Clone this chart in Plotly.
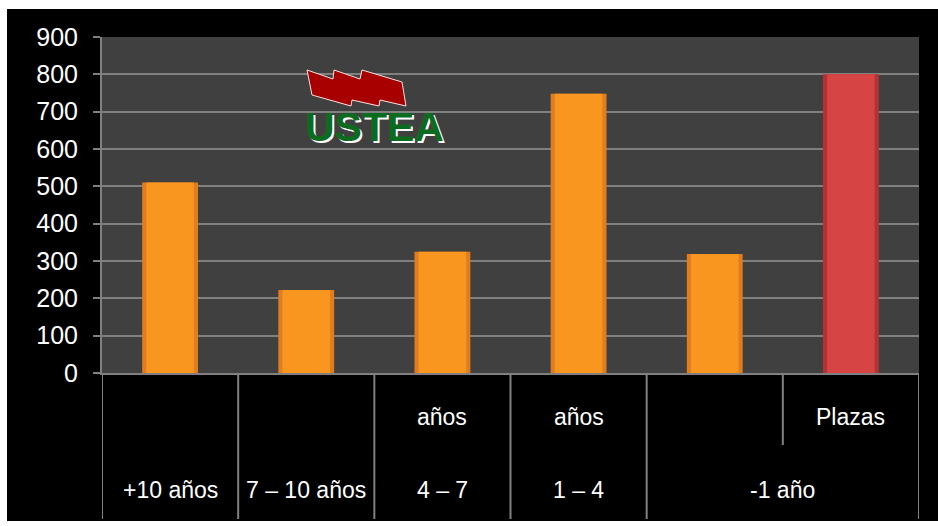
import plotly.graph_objects as go

# ---- data ----
categories = ["+10 años", "7 – 10 años", "4 – 7 años", "1 – 4 años", "-1 año", "Plazas"]
values = [510, 222, 325, 748, 319, 800]
label_top = ["", "", "años", "años", "", "Plazas"]
label_bottom = ["+10 años", "7 – 10 años", "4 – 7", "1 – 4", "-1 año"]
bottom_group = [0, 1, 2, 3, 4, 4]          # which bottom label each category belongs to
y_ticks = [0, 100, 200, 300, 400, 500, 600, 700, 800, 900]

# ---- style ----
ORANGE_EDGE = "#E07D1E"
ORANGE_MID = "#F8961F"
RED_EDGE = "#B53232"
RED_MID = "#D64444"
edge_colors = [ORANGE_EDGE] * 5 + [RED_EDGE]
mid_colors = [ORANGE_MID] * 5 + [RED_MID]
GRID = "#808080"
FONT = "Liberation Sans, Arial, sans-serif"

W, H = 938, 526
L, R, T, B = 102, 19, 37, 153
PW, PH = W - L - R, H - T - B


def px(x):
    return (x - L) / PW


def py(y):
    return (H - B - y) / PH


fig = go.Figure()
fig.add_trace(go.Bar(x=categories, y=values, width=0.41,
                     marker=dict(color=edge_colors, line=dict(width=0)),
                     hoverinfo="x+y"))
fig.add_trace(go.Bar(x=categories, y=values, width=0.35,
                     marker=dict(color=mid_colors, line=dict(width=0)),
                     hoverinfo="skip"))

shapes = []
# white border strips around the black card
shapes.append(dict(type="rect", xref="paper", yref="paper", x0=px(-5), x1=px(W + 5),
                   y0=py(9), y1=py(-5), fillcolor="white", line=dict(width=0), layer="above"))
shapes.append(dict(type="rect", xref="paper", yref="paper", x0=px(-5), x1=px(7),
                   y0=py(H + 5), y1=py(-5), fillcolor="white", line=dict(width=0), layer="above"))
shapes.append(dict(type="rect", xref="paper", yref="paper", x0=px(-5), x1=px(W + 5),
                   y0=py(H + 5), y1=py(521), fillcolor="white", line=dict(width=0), layer="above"))

# category dividers below the axis
n = len(categories)
for i in range(n + 1):
    xb = i - 0.5
    same_group = 0 < i < n and bottom_group[i - 1] == bottom_group[i]
    y_end = py(445) if same_group else py(519)
    shapes.append(dict(type="line", xref="x", yref="paper", x0=xb, x1=xb,
                       y0=0, y1=y_end, line=dict(color=GRID, width=2)))

# logo: red flags
pts = [(307, 70), (333, 79), (334, 70), (360, 79), (362, 70), (402, 82), (406, 106),
       (380, 100), (379, 106), (352, 100), (351, 106), (312, 95)]
path = "M " + " L ".join(f"{px(a):.5f},{py(b):.5f}" for a, b in pts) + " Z"
shapes.append(dict(type="path", xref="paper", yref="paper", path=path,
                   fillcolor="#A80000", line=dict(color="#FFE0E0", width=1), layer="above"))

annotations = []
for i, t in enumerate(label_top):
    if t:
        annotations.append(dict(x=i, xref="x", y=py(417), yref="paper", text=t,
                                showarrow=False, font=dict(family=FONT, size=23, color="white"),
                                yanchor="middle"))
for g, t in enumerate(label_bottom):
    idx = [i for i, b in enumerate(bottom_group) if b == g]
    annotations.append(dict(x=sum(idx) / len(idx), xref="x", y=py(490), yref="paper", text=t,
                            showarrow=False, font=dict(family=FONT, size=23, color="white"),
                            yanchor="middle"))

# logo text (white drop shadow via CSS text-shadow)
annotations.append(dict(x=px(374), y=py(127), xref="paper", yref="paper", text="<b>USTEA</b>",
                        showarrow=False, xanchor="center", yanchor="middle",
                        font=dict(family=FONT, size=41, color="#0B6B1E",
                                  shadow="2px 2px 0px #FFFFFF")))

fig.update_layout(
    width=W, height=H,
    margin=dict(l=L, r=R, t=T, b=B, pad=0),
    paper_bgcolor="black",
    plot_bgcolor="#404040",
    barmode="overlay",
    showlegend=False,
    shapes=shapes,
    annotations=annotations,
    xaxis=dict(type="category", showticklabels=False, showgrid=False, ticks="",
               showline=True, linecolor=GRID, linewidth=2, range=[-0.5, n - 0.5],
               zeroline=False),
    yaxis=dict(range=[0, 900], tickvals=y_ticks, showgrid=True, gridcolor=GRID, gridwidth=2,
               showline=True, linecolor=GRID, linewidth=2, ticks="outside", ticklen=7,
               tickwidth=2, tickcolor=GRID, zeroline=False,
               tickfont=dict(family=FONT, size=25, color="white"), ticklabelstandoff=10),
)

fig.write_html("out.html", config={"displayModeBar": False},
               post_script="document.body.style.margin='0px';")
